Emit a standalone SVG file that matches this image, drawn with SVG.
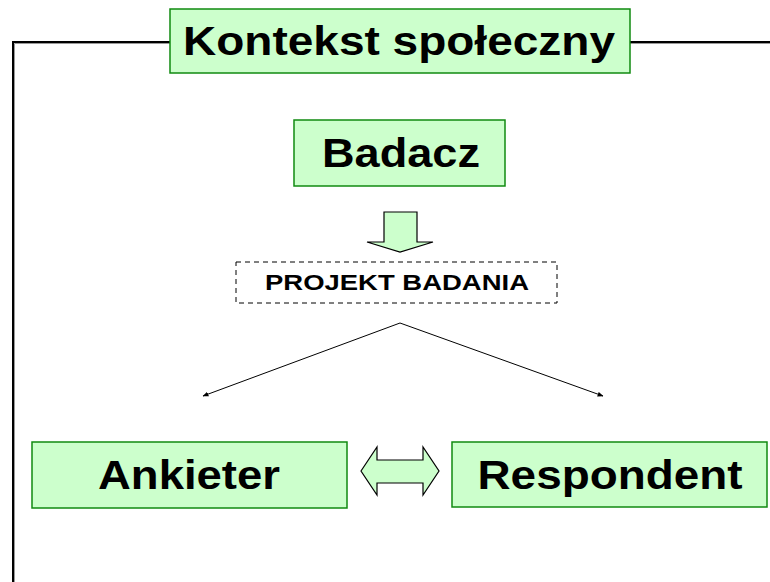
<svg xmlns="http://www.w3.org/2000/svg" width="770" height="582" viewBox="0 0 770 582">
  <style>
    .box { fill: #CCFFCC; stroke: #108A10; stroke-width: 1.5; }
    .big { font-family: "Liberation Sans", Arial, sans-serif; font-weight: bold; font-size: 40px; fill: #000; text-anchor: middle; }
    .small { font-family: "Liberation Sans", Arial, sans-serif; font-weight: bold; font-size: 22px; fill: #000; text-anchor: middle; }
    .dash { fill: #FFFFFF; stroke: #000; stroke-width: 1; stroke-dasharray: 5 4; }
    .frame { fill: none; stroke: #000; stroke-width: 2; }
    .shadow { fill: none; stroke: #999; stroke-width: 1; }
    .block { fill: #CCFFCC; stroke: #000; stroke-width: 1.2; stroke-linejoin: miter; }
    .line { fill: none; stroke: #000; stroke-width: 1; }
  </style>
  <defs>
    <marker id="ah" viewBox="0 0 10 10" refX="9" refY="5" markerWidth="6" markerHeight="6" orient="auto" markerUnits="userSpaceOnUse">
      <path d="M0,1 L10,5 L0,9 Z" fill="#000"/>
    </marker>
  </defs>

  <g id="frame">
    <path class="shadow" d="M170,43.5 H14.5 V582 M630,43.5 H770"/>
    <path class="frame" d="M170,42 H13 V582 M630,42 H770"/>
  </g>

  <g id="title">
    <rect class="box" x="170" y="9" width="460" height="64"/>
    <text class="big" x="399" y="55" textLength="432" lengthAdjust="spacingAndGlyphs">Kontekst społeczny</text>
  </g>

  <g id="badacz">
    <rect class="box" x="294" y="120" width="211" height="66"/>
    <text class="big" x="401" y="167" textLength="158" lengthAdjust="spacingAndGlyphs">Badacz</text>
  </g>

  <g id="projekt">
    <rect class="dash" x="236" y="262" width="321" height="41"/>
    <text class="small" x="397" y="290" textLength="264" lengthAdjust="spacingAndGlyphs">PROJEKT BADANIA</text>
  </g>

  <g id="ankieter">
    <rect class="box" x="32" y="442" width="315" height="66"/>
    <text class="big" x="189" y="489" textLength="182" lengthAdjust="spacingAndGlyphs">Ankieter</text>
  </g>

  <g id="respondent">
    <rect class="box" x="452" y="442" width="315" height="65"/>
    <text class="big" x="610" y="489" textLength="265" lengthAdjust="spacingAndGlyphs">Respondent</text>
  </g>

  <g id="connectors">
    <polygon class="block" points="384,212 417,212 417,242 433,242 400,252 367,242 384,242"/>
    <line class="line" x1="400" y1="323" x2="203" y2="396" marker-end="url(#ah)"/>
    <line class="line" x1="400" y1="323" x2="603" y2="396" marker-end="url(#ah)"/>
    <polygon class="block" points="361,471 377,447 377,460 423,460 423,447 439,471 423,495 423,483 377,483 377,495"/>
  </g>
</svg>
